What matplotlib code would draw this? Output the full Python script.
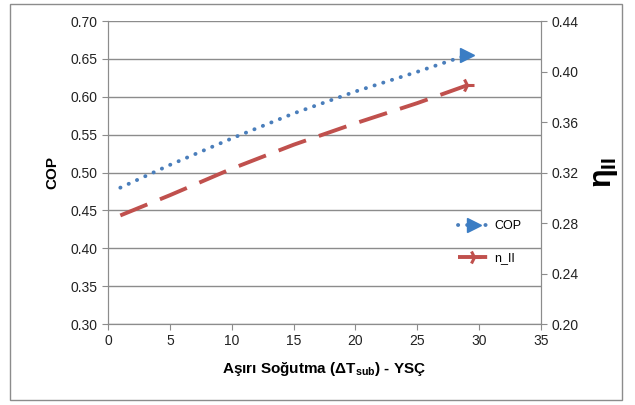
import matplotlib.pyplot as plt
from matplotlib.patches import Rectangle

plt.rcParams['font.family'] = ['Liberation Sans', 'DejaVu Sans']
plt.rcParams['mathtext.fontset'] = 'custom'
plt.rcParams['mathtext.rm'] = 'Liberation Sans'
plt.rcParams['mathtext.bf'] = 'Liberation Sans:bold'

# data
subcool = [1, 5, 10, 15, 20, 25, 29]
cop = [0.480, 0.510, 0.545, 0.578, 0.607, 0.633, 0.655]
eta_ii = [0.286, 0.302, 0.323, 0.342, 0.359, 0.375, 0.389]

cop_ticks = [0.30, 0.35, 0.40, 0.45, 0.50, 0.55, 0.60, 0.65, 0.70]
eta_ticks = [0.20, 0.24, 0.28, 0.32, 0.36, 0.40, 0.44]
x_ticks = [0, 5, 10, 15, 20, 25, 30, 35]

fig = plt.figure(figsize=(6.35, 4.05), dpi=100)
ax = fig.add_axes([0.170, 0.200, 0.682, 0.748])
ax2 = ax.twinx()

# outer frame of the chart
fig.patches.append(Rectangle((0.016, 0.012), 0.964, 0.978, transform=fig.transFigure,
                             fill=False, edgecolor='#8c8c8c', lw=1.0))

l1, = ax.plot(subcool, cop, color='#4a7ebb', lw=2.8, ls=(0, (0.05, 2.3)),
              dash_capstyle='round', marker='>', markevery=[-1], markersize=10,
              markerfacecolor='#3b7dc4', markeredgecolor='#3b7dc4', label='COP', zorder=3)
l2, = ax2.plot(subcool, eta_ii, color='#c0504d', lw=2.8, ls=(0, (7.5, 3.5)),
               marker='4', markevery=[-1], markersize=10, markeredgewidth=2.2,
               label='n_II', zorder=3)

ax.set_xlim(0, 35)
ax.set_ylim(0.30, 0.70)
ax2.set_ylim(0.20, 0.44)
ax.set_xticks(x_ticks)
ax.set_yticks(cop_ticks)
ax.set_yticklabels([f'{v:.2f}' for v in cop_ticks])
ax2.set_yticks(eta_ticks)
ax2.set_yticklabels([f'{v:.2f}' for v in eta_ticks])

ax.grid(axis='y', color='#8c8c8c', lw=1.0)
ax.set_axisbelow(True)
for a in (ax, ax2):
    for s in a.spines.values():
        s.set_color('#8c8c8c')
    a.spines['top'].set_visible(False)
    a.tick_params(colors='#8c8c8c', labelcolor='#222222', labelsize=10, length=4)

ax.set_ylabel('COP', fontsize=11, fontweight='bold', labelpad=8)
ax2.set_ylabel(r'$\mathbf{\eta_{II}}$', fontsize=22, rotation=90, labelpad=8)
ax.set_xlabel(r'Aşırı Soğutma (ΔT$_{\mathbf{sub}}$) - YSÇ', fontsize=11,
              fontweight='bold', labelpad=8)

ax2.legend(handles=[l1, l2], loc='center right', bbox_to_anchor=(0.98, 0.27),
           frameon=False, fontsize=9, handlelength=2.6, labelspacing=1.6,
           handletextpad=0.3)

fig.savefig('out.png', dpi=100)
